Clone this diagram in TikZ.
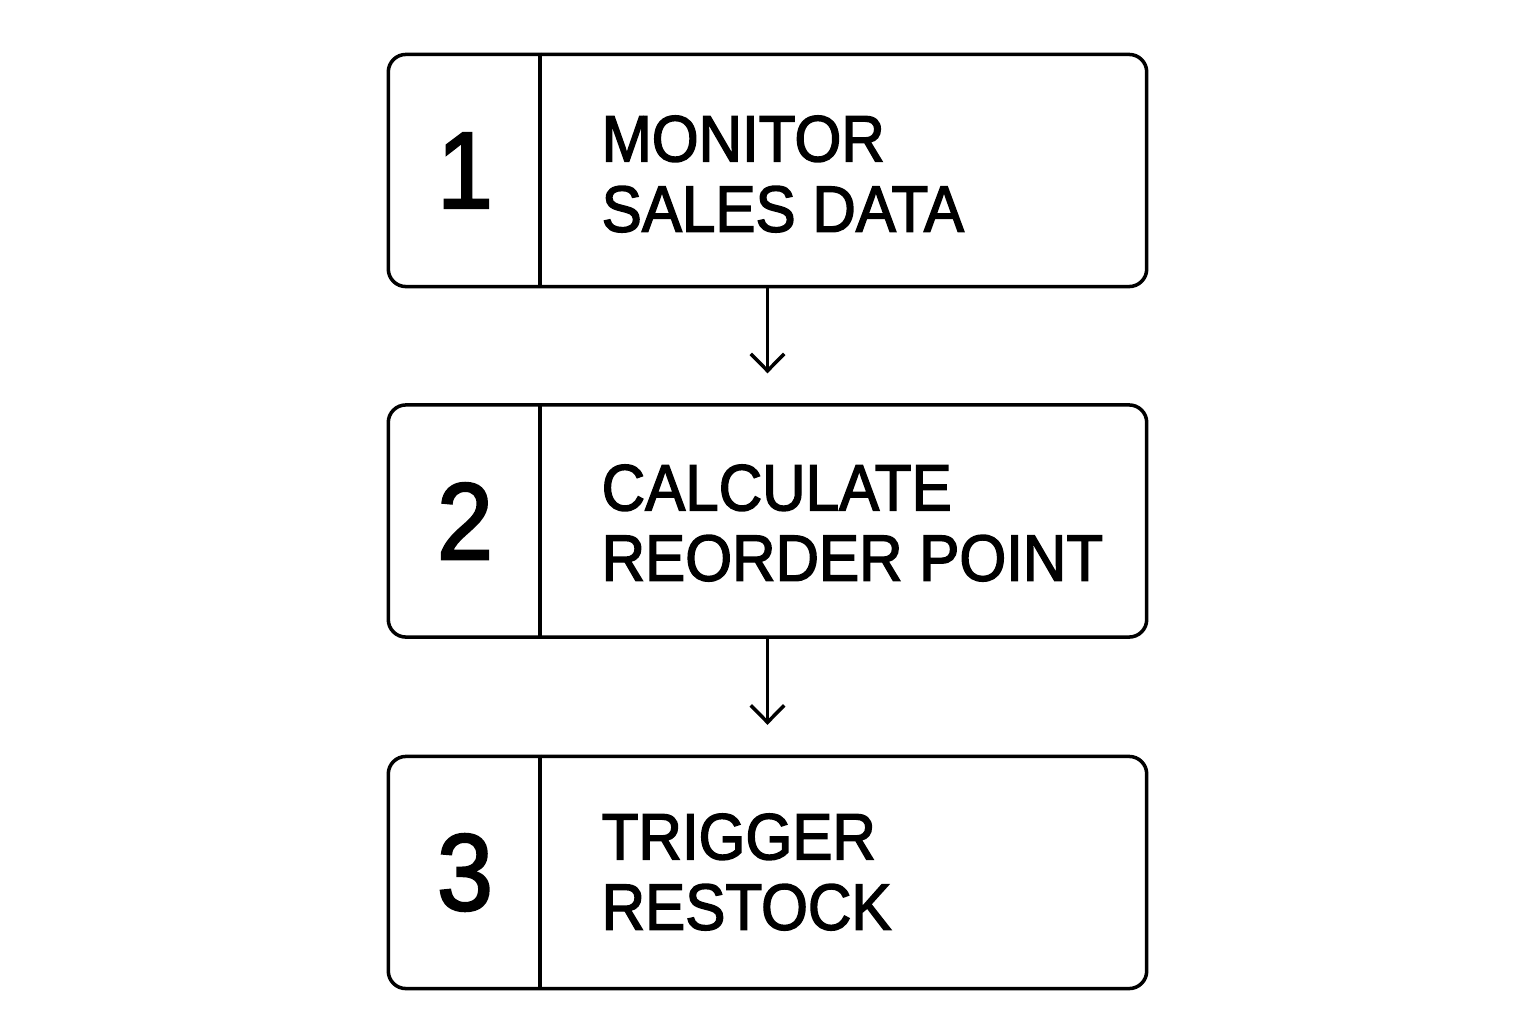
\documentclass[tikz,border=0pt]{standalone}
\usepackage{fontspec}
\setmainfont{Liberation Sans}[FakeBold=2.2,FakeStretch=0.92]
\usetikzlibrary{arrows.meta,positioning}
\tikzset{
  stepbox/.style={draw,line width=1pt,rounded corners=5pt,minimum width=7.58cm,
    minimum height=2.32cm,inner sep=0pt},
  stepnum/.style={font=\fontsize{31}{31}\selectfont,inner sep=0pt},
  steptext/.style={anchor=west,align=left,font=\fontsize{18.6}{20}\selectfont,inner sep=0pt},
  flow/.style={line width=1pt,-{Straight Barb[length=4.8pt,width=9.5pt]},shorten >=8.5pt}
}

\begin{document}
\begin{tikzpicture}[x=0.01cm,y=-0.01cm]
       \useasboundingbox (0,0) rectangle (1536,1024);
       \foreach \i/\y in {1/170.5,2/521,3/872.5}{
         \node[stepbox] (b\i) at (767.5,\y) {};
         \draw[line width=1pt] ([xshift=1.535cm]b\i.north west) -- ([xshift=1.535cm]b\i.south west);
         \node[stepnum] (n\i) at (465,\y) {\i};
       }
       \node[steptext] (t1) at (601,174) {MONITOR\\SALES DATA};
       \node[steptext] (t2) at (601,523) {CALCULATE\\REORDER POINT};
       \node[steptext] (t3) at (601,872) {TRIGGER\\RESTOCK};
       \draw[flow] (b1.south) -- (b2.north);
       \draw[flow] (b2.south) -- (b3.north);
\end{tikzpicture}
\end{document}
